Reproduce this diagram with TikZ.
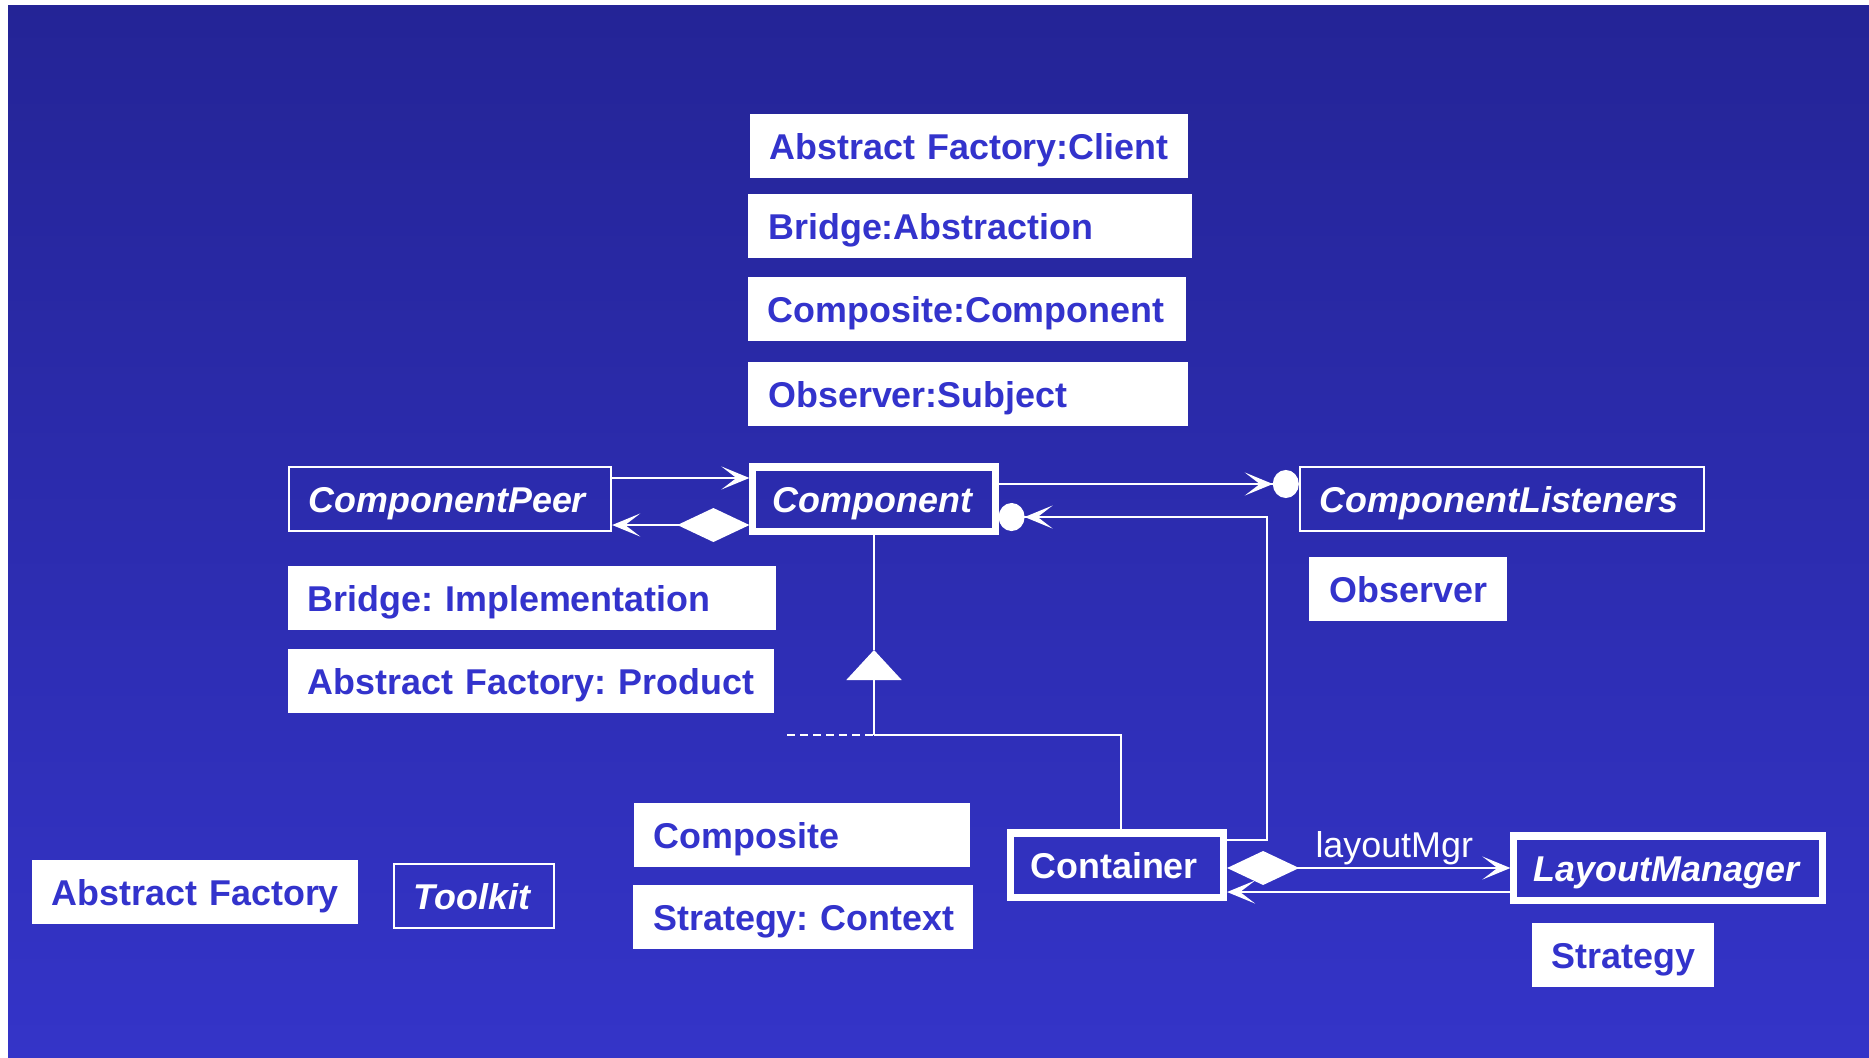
\documentclass[tikz,border=0pt]{standalone}
\usepackage{fontspec}
\setmainfont{Liberation Sans}
\usepackage{xcolor}
\usepackage{tikz}
\usetikzlibrary{arrows.meta}
\definecolor{bgtop}{HTML}{242496}
\definecolor{bgbottom}{HTML}{3434C8}
\definecolor{labelblue}{HTML}{3333CC}
\newcommand\umlfont{\fontsize{10.2}{12.2}\selectfont\frenchspacing}
\tikzset{
  oneline/.style={execute at begin node={\hbox\bgroup}, execute at end node={\egroup}},
  role/.style={fill=white, text=labelblue, font=\umlfont\bfseries, inner xsep=0.2cm, inner ysep=0pt,
    minimum height=0.63cm, text width=#1, align=left, text height=0.75em, text depth=0pt, oneline},
  classbox/.style={draw=white, line width=0.6pt, text=white, font=\umlfont\bfseries\itshape, inner xsep=0.2cm,
    inner ysep=0pt, minimum height=0.64cm, text width=#1, align=left, text height=0.75em, text depth=0pt, oneline},
  mainclass/.style={classbox=#1, line width=2pt},
  openbarb/.tip={Stealth[length=0.28cm,width=0.23cm,inset=0.15cm]},
  dot/.tip={Circle[length=0.26cm,width=0.28cm]},
  whole/.tip={Diamond[length=0.72cm,width=0.34cm]}
}

\begin{document}
\begin{tikzpicture}[x=0.01cm, y=-0.01cm, white, line width=0.6pt, >=openbarb]
  \fill[white] (0,0) rectangle (1869,1057);
  \useasboundingbox (0,0) rectangle (1869,1057);
  \shade[top color=bgtop, bottom color=bgbottom] (8,5) rectangle (1869,1057);

  \node[role=3.98cm] (client) at (969,146) {Abstract Factory:Client};
  \node[role=4.03cm] (abstraction) at (970,226) {Bridge:Abstraction};
  \node[role=3.98cm] (compcomp) at (967,309) {Composite:Component};
  \node[role=3.99cm] (subject) at (968,394) {Observer:Subject};

  \node[classbox=2.82cm] (peer) at (450,499) {ComponentPeer};
  \node[mainclass=2.02cm] (comp) at (874,499) {Component};
  \node[classbox=3.64cm] (listeners) at (1502,499) {ComponentListeners};
  \node[role=1.57cm] (observer) at (1408,589) {Observer};

  \node[role=4.48cm] (implementation) at (532,598) {Bridge: Implementation};
  \node[role=4.46cm] (product) at (531,681) {Abstract Factory: Product};

  \node[role=2.96cm] (composite) at (802,835) {Composite};
  \node[role=2.99cm] (context) at (803,917) {Strategy: Context};
  \node[mainclass=1.73cm, font=\umlfont\bfseries] (container) at (1117,865) {Container};
  \node[mainclass=2.68cm] (layout) at (1668,868) {LayoutManager};
  \node[role=1.42cm] (strategy) at (1623,955) {Strategy};

  \node[role=2.86cm] (factory) at (195,892) {Abstract Factory};
  \node[classbox=1.20cm] (toolkit) at (474,896) {Toolkit};

  \draw[->] ([yshift=0.21cm]peer.east) -- ([yshift=0.21cm]comp.west);
  \draw[{whole[]}->] ([yshift=-0.26cm]comp.west) -- ([yshift=-0.26cm]peer.east);
  \draw[-{openbarb[]dot[]}] ([yshift=0.15cm]comp.east) -- ([yshift=0.15cm]listeners.west);
  \draw[-{openbarb[]dot[]}] ([yshift=0.25cm]container.east) -- ++(40,0) |- ([yshift=-0.18cm]comp.east);

  \coordinate (join) at (874,735);
  \coordinate (stub) at (787,735);
  \coordinate (gen) at (874,650);
  \draw ([xshift=0.04cm]container.north) |- (join);
  \draw[-{Triangle[length=0.3cm,width=0.55cm]}] (join) -- (gen);
  \draw (gen) -- (comp.south);
  \draw[dash pattern=on 0.08cm off 0.05cm] (stub) -- (join);

  \draw[{whole[]}->] (layout.west -| container.east) -- node[above, inner sep=0.5pt, pos=0.59, font=\umlfont] {layoutMgr} (layout.west);
  \draw[->] ([yshift=-0.24cm]layout.west) coordinate (back) -- (back -| container.east);
\end{tikzpicture}
\end{document}
